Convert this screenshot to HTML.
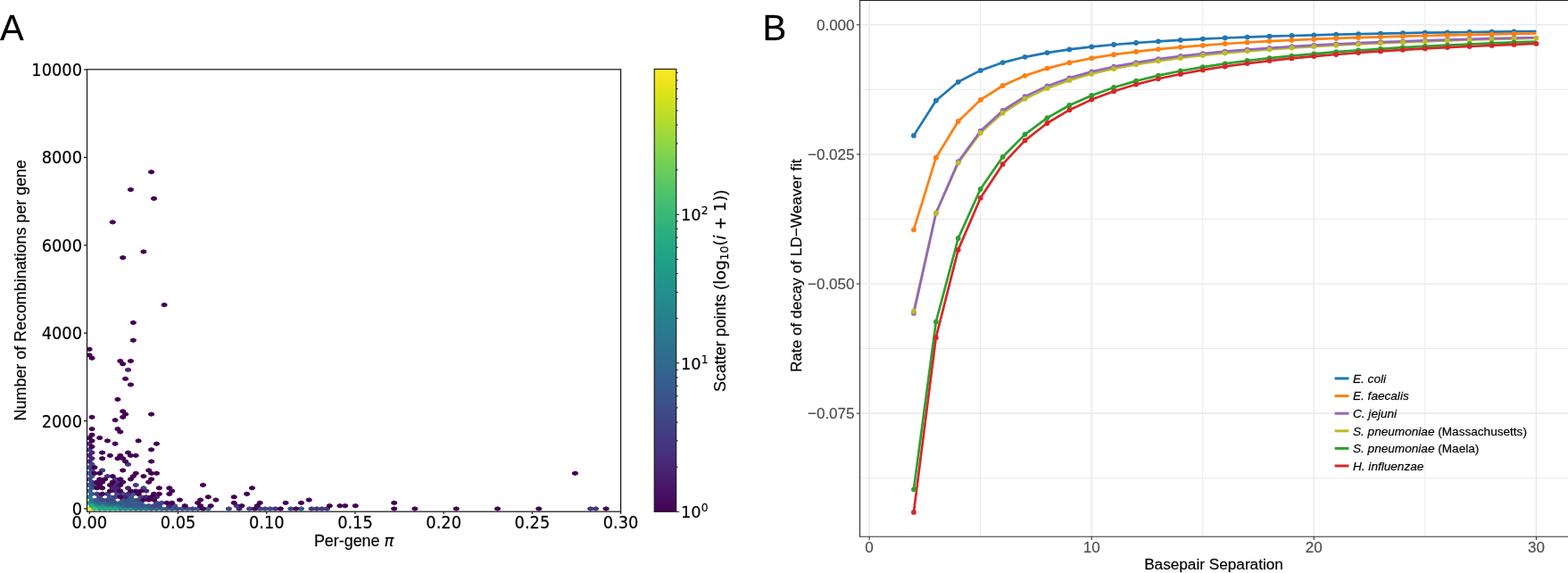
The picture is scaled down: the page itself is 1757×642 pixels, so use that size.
<!DOCTYPE html>
<html><head><meta charset="utf-8"><title>Figure</title>
<style>html,body{margin:0;padding:0;background:#fff;overflow:hidden}svg{display:block}text{stroke:#000;stroke-width:0.3px;stroke-opacity:0.6}text.g{stroke:#4d4d4d}</style>
</head><body>
<svg width="1757" height="642" viewBox="0 0 1757 642"><defs><clipPath id="axA"><rect x="97.5" y="77.8" width="598.1" height="495.4"/></clipPath></defs><g stroke-width="1" stroke-linejoin="round" clip-path="url(#axA)"><path fill="#fde725" stroke="#fde725" d="M103.0 571.1 103.0 568.9 100.1 567.8 97.2 568.9 97.2 571.1 100.1 572.2Z"/><path fill="#21918c" stroke="#21918c" d="M103.0 564.5 103.0 562.3 100.1 561.2 97.2 562.3 97.2 564.5 100.1 565.6ZM111.7 567.8 111.7 565.6 108.8 564.5 105.9 565.6 105.9 567.8 108.8 568.9ZM117.5 567.8 117.5 565.6 114.6 564.5 111.7 565.6 111.7 567.8 114.6 568.9ZM137.7 571.1 137.7 568.9 134.8 567.8 131.9 568.9 131.9 571.1 134.8 572.2ZM143.5 571.1 143.5 568.9 140.6 567.8 137.7 568.9 137.7 571.1 140.6 572.2ZM149.3 571.1 149.3 568.9 146.4 567.8 143.5 568.9 143.5 571.1 146.4 572.2Z"/><path fill="#2a788e" stroke="#2a788e" d="M103.0 557.9 103.0 555.7 100.1 554.6 97.2 555.7 97.2 557.9 100.1 559.0ZM105.9 561.2 105.9 559.0 103.0 557.9 100.1 559.0 100.1 561.2 103.0 562.3ZM108.8 564.5 108.8 562.3 105.9 561.2 103.0 562.3 103.0 564.5 105.9 565.6ZM123.3 567.8 123.3 565.6 120.4 564.5 117.5 565.6 117.5 567.8 120.4 568.9ZM129.1 567.8 129.1 565.6 126.2 564.5 123.3 565.6 123.3 567.8 126.2 568.9ZM134.8 567.8 134.8 565.6 131.9 564.5 129.0 565.6 129.0 567.8 131.9 568.9ZM155.1 571.1 155.1 568.9 152.2 567.8 149.3 568.9 149.3 571.1 152.2 572.2ZM160.9 571.1 160.9 568.9 158.0 567.8 155.1 568.9 155.1 571.1 158.0 572.2ZM166.7 571.1 166.7 568.9 163.8 567.8 160.9 568.9 160.9 571.1 163.8 572.2Z"/><path fill="#31678e" stroke="#31678e" d="M103.0 551.2 103.0 549.0 100.1 547.9 97.2 549.0 97.2 551.2 100.1 552.3ZM105.9 554.6 105.9 552.3 103.0 551.2 100.1 552.3 100.1 554.6 103.0 555.7ZM114.6 564.5 114.6 562.3 111.7 561.2 108.8 562.3 108.8 564.5 111.7 565.6ZM120.4 564.5 120.4 562.3 117.5 561.2 114.6 562.3 114.6 564.5 117.5 565.6ZM140.6 567.8 140.6 565.6 137.7 564.5 134.8 565.6 134.8 567.8 137.7 568.9ZM172.5 571.1 172.5 568.9 169.6 567.8 166.7 568.9 166.7 571.1 169.6 572.2ZM178.3 571.1 178.3 568.9 175.4 567.8 172.5 568.9 172.5 571.1 175.4 572.2ZM184.1 571.1 184.1 568.9 181.2 567.8 178.3 568.9 178.3 571.1 181.2 572.2ZM236.2 571.1 236.2 568.9 233.3 567.8 230.4 568.9 230.4 571.1 233.3 572.2Z"/><path fill="#38588c" stroke="#38588c" d="M103.0 544.6 103.0 542.4 100.1 541.3 97.2 542.4 97.2 544.6 100.1 545.7ZM103.0 531.4 103.0 529.2 100.1 528.1 97.2 529.2 97.2 531.4 100.1 532.5ZM105.9 547.9 105.9 545.7 103.0 544.6 100.1 545.7 100.1 547.9 103.0 549.0ZM105.9 534.7 105.9 532.5 103.0 531.4 100.1 532.5 100.1 534.7 103.0 535.8ZM111.7 561.2 111.7 559.0 108.8 557.9 105.9 559.0 105.9 561.2 108.8 562.3ZM126.2 564.5 126.2 562.3 123.3 561.2 120.4 562.3 120.4 564.5 123.3 565.6ZM126.2 557.9 126.2 555.7 123.3 554.6 120.4 555.7 120.4 557.9 123.3 559.0ZM131.9 564.5 131.9 562.3 129.0 561.2 126.2 562.3 126.2 564.5 129.0 565.6ZM137.7 564.5 137.7 562.3 134.8 561.2 131.9 562.3 131.9 564.5 134.8 565.6ZM140.6 561.2 140.6 559.0 137.7 557.9 134.8 559.0 134.8 561.2 137.7 562.3ZM143.5 564.5 143.5 562.3 140.6 561.2 137.7 562.3 137.7 564.5 140.6 565.6ZM146.4 567.8 146.4 565.6 143.5 564.5 140.6 565.6 140.6 567.8 143.5 568.9ZM146.4 561.2 146.4 559.0 143.5 557.9 140.6 559.0 140.6 561.2 143.5 562.3ZM149.3 564.5 149.3 562.3 146.4 561.2 143.5 562.3 143.5 564.5 146.4 565.6ZM149.3 557.9 149.3 555.7 146.4 554.6 143.5 555.7 143.5 557.9 146.4 559.0ZM152.2 567.8 152.2 565.6 149.3 564.5 146.4 565.6 146.4 567.8 149.3 568.9ZM152.2 561.2 152.2 559.0 149.3 557.9 146.4 559.0 146.4 561.2 149.3 562.3ZM152.2 554.6 152.2 552.3 149.3 551.2 146.4 552.3 146.4 554.6 149.3 555.7ZM155.1 564.5 155.1 562.3 152.2 561.2 149.3 562.3 149.3 564.5 152.2 565.6ZM158.0 567.8 158.0 565.6 155.1 564.5 152.2 565.6 152.2 567.8 155.1 568.9ZM160.9 564.5 160.9 562.3 158.0 561.2 155.1 562.3 155.1 564.5 158.0 565.6ZM163.8 567.8 163.8 565.6 160.9 564.5 158.0 565.6 158.0 567.8 160.9 568.9ZM169.6 567.8 169.6 565.6 166.7 564.5 163.8 565.6 163.8 567.8 166.7 568.9ZM189.8 571.1 189.8 568.9 186.9 567.8 184.1 568.9 184.1 571.1 186.9 572.2ZM195.6 571.1 195.6 568.9 192.7 567.8 189.8 568.9 189.8 571.1 192.7 572.2ZM198.5 567.8 198.5 565.6 195.6 564.5 192.7 565.6 192.7 567.8 195.6 568.9ZM207.2 571.1 207.2 568.9 204.3 567.8 201.4 568.9 201.4 571.1 204.3 572.2ZM213.0 571.1 213.0 568.9 210.1 567.8 207.2 568.9 207.2 571.1 210.1 572.2ZM224.6 571.1 224.6 568.9 221.7 567.8 218.8 568.9 218.8 571.1 221.7 572.2ZM340.4 571.1 340.4 568.9 337.5 567.8 334.6 568.9 334.6 571.1 337.5 572.2Z"/><path fill="#404688" stroke="#404688" d="M103.0 538.0 103.0 535.8 100.1 534.7 97.2 535.8 97.2 538.0 100.1 539.1ZM103.0 524.8 103.0 522.6 100.1 521.5 97.2 522.6 97.2 524.8 100.1 525.9ZM105.9 541.3 105.9 539.1 103.0 538.0 100.1 539.1 100.1 541.3 103.0 542.4ZM105.9 528.1 105.9 525.9 103.0 524.8 100.1 525.9 100.1 528.1 103.0 529.2ZM105.9 521.5 105.9 519.2 103.0 518.1 100.1 519.2 100.1 521.5 103.0 522.6ZM114.6 557.9 114.6 555.7 111.7 554.6 108.8 555.7 108.8 557.9 111.7 559.0ZM117.5 561.2 117.5 559.0 114.6 557.9 111.7 559.0 111.7 561.2 114.6 562.3ZM123.3 561.2 123.3 559.0 120.4 557.9 117.5 559.0 117.5 561.2 120.4 562.3ZM123.3 554.6 123.3 552.3 120.4 551.2 117.5 552.3 117.5 554.6 120.4 555.7ZM129.1 561.2 129.1 559.0 126.2 557.9 123.3 559.0 123.3 561.2 126.2 562.3ZM131.9 557.9 131.9 555.7 129.0 554.6 126.2 555.7 126.2 557.9 129.0 559.0ZM134.8 554.6 134.8 552.3 131.9 551.2 129.0 552.3 129.0 554.6 131.9 555.7ZM140.6 554.6 140.6 552.3 137.7 551.2 134.8 552.3 134.8 554.6 137.7 555.7ZM158.0 561.2 158.0 559.0 155.1 557.9 152.2 559.0 152.2 561.2 155.1 562.3ZM160.9 557.9 160.9 555.7 158.0 554.6 155.1 555.7 155.1 557.9 158.0 559.0ZM163.8 547.9 163.8 545.7 160.9 544.6 158.0 545.7 158.0 547.9 160.9 549.0ZM175.4 567.8 175.4 565.6 172.5 564.5 169.6 565.6 169.6 567.8 172.5 568.9ZM178.3 564.5 178.3 562.3 175.4 561.2 172.5 562.3 172.5 564.5 175.4 565.6ZM181.2 567.8 181.2 565.6 178.3 564.5 175.4 565.6 175.4 567.8 178.3 568.9ZM184.1 564.5 184.1 562.3 181.2 561.2 178.3 562.3 178.3 564.5 181.2 565.6ZM201.4 571.1 201.4 568.9 198.5 567.8 195.6 568.9 195.6 571.1 198.5 572.2ZM218.8 571.1 218.8 568.9 215.9 567.8 213.0 568.9 213.0 571.1 215.9 572.2ZM259.3 571.1 259.3 568.9 256.4 567.8 253.5 568.9 253.5 571.1 256.4 572.2ZM282.5 571.1 282.5 568.9 279.6 567.8 276.7 568.9 276.7 571.1 279.6 572.2ZM294.1 571.1 294.1 568.9 291.2 567.8 288.3 568.9 288.3 571.1 291.2 572.2ZM299.9 571.1 299.9 568.9 297.0 567.8 294.1 568.9 294.1 571.1 297.0 572.2ZM305.6 571.1 305.6 568.9 302.8 567.8 299.9 568.9 299.9 571.1 302.8 572.2ZM328.8 571.1 328.8 568.9 325.9 567.8 323.0 568.9 323.0 571.1 325.9 572.2Z"/><path fill="#482475" stroke="#482475" d="M103.0 518.1 103.0 515.9 100.1 514.8 97.2 515.9 97.2 518.1 100.1 519.2ZM103.0 511.5 103.0 509.3 100.1 508.2 97.2 509.3 97.2 511.5 100.1 512.6ZM103.0 498.3 103.0 496.1 100.1 495.0 97.2 496.1 97.2 498.3 100.1 499.4ZM105.9 514.8 105.9 512.6 103.0 511.5 100.1 512.6 100.1 514.8 103.0 515.9ZM105.9 508.2 105.9 506.0 103.0 504.9 100.1 506.0 100.1 508.2 103.0 509.3ZM129.1 547.9 129.1 545.7 126.2 544.6 123.3 545.7 123.3 547.9 126.2 549.0ZM131.9 551.2 131.9 549.0 129.0 547.9 126.2 549.0 126.2 551.2 129.0 552.3ZM131.9 544.6 131.9 542.4 129.0 541.3 126.2 542.4 126.2 544.6 129.0 545.7ZM134.8 547.9 134.8 545.7 131.9 544.6 129.0 545.7 129.0 547.9 131.9 549.0ZM143.5 557.9 143.5 555.7 140.6 554.6 137.7 555.7 137.7 557.9 140.6 559.0ZM146.4 547.9 146.4 545.7 143.5 544.6 140.6 545.7 140.6 547.9 143.5 549.0ZM146.4 415.5 146.4 413.3 143.5 412.2 140.6 413.3 140.6 415.5 143.5 416.6ZM166.7 557.9 166.7 555.7 163.8 554.6 160.9 555.7 160.9 557.9 163.8 559.0ZM166.7 551.2 166.7 549.0 163.8 547.9 160.9 549.0 160.9 551.2 163.8 552.3ZM178.3 557.9 178.3 555.7 175.4 554.6 172.5 555.7 172.5 557.9 175.4 559.0ZM192.7 567.8 192.7 565.6 189.8 564.5 186.9 565.6 186.9 567.8 189.8 568.9ZM270.9 571.1 270.9 568.9 268.0 567.8 265.1 568.9 265.1 571.1 268.0 572.2Z"/><path fill="#453781" stroke="#453781" d="M103.0 504.9 103.0 502.7 100.1 501.6 97.2 502.7 97.2 504.9 100.1 506.0ZM108.8 544.6 108.8 542.4 105.9 541.3 103.0 542.4 103.0 544.6 105.9 545.7ZM111.7 554.6 111.7 552.3 108.8 551.2 105.9 552.3 105.9 554.6 108.8 555.7ZM117.5 528.1 117.5 525.9 114.6 524.8 111.7 525.9 111.7 528.1 114.6 529.2ZM123.3 534.7 123.3 532.5 120.4 531.4 117.5 532.5 117.5 534.7 120.4 535.8ZM131.9 538.0 131.9 535.8 129.0 534.7 126.2 535.8 126.2 538.0 129.0 539.1ZM134.8 541.3 134.8 539.1 131.9 538.0 129.0 539.1 129.0 541.3 131.9 542.4ZM146.4 554.6 146.4 552.3 143.5 551.2 140.6 552.3 140.6 554.6 143.5 555.7ZM146.4 521.5 146.4 519.2 143.5 518.1 140.6 519.2 140.6 521.5 143.5 522.6ZM155.1 544.6 155.1 542.4 152.2 541.3 149.3 542.4 149.3 544.6 152.2 545.7ZM268.0 567.8 268.0 565.6 265.1 564.5 262.2 565.6 262.2 567.8 265.1 568.9ZM311.4 571.1 311.4 568.9 308.5 567.8 305.6 568.9 305.6 571.1 308.5 572.2ZM352.0 571.1 352.0 568.9 349.1 567.8 346.2 568.9 346.2 571.1 349.1 572.2ZM357.8 571.1 357.8 568.9 354.9 567.8 352.0 568.9 352.0 571.1 354.9 572.2ZM363.5 571.1 363.5 568.9 360.6 567.8 357.8 568.9 357.8 571.1 360.6 572.2ZM369.3 571.1 369.3 568.9 366.4 567.8 363.5 568.9 363.5 571.1 366.4 572.2ZM664.6 571.1 664.6 568.9 661.7 567.8 658.8 568.9 658.8 571.1 661.7 572.2ZM670.4 571.1 670.4 568.9 667.5 567.8 664.6 568.9 664.6 571.1 667.5 572.2Z"/><path fill="#440154" stroke="#440154" d="M103.0 491.7 103.0 489.5 100.1 488.4 97.2 489.5 97.2 491.7 100.1 492.8ZM103.0 399.0 103.0 396.8 100.1 395.7 97.2 396.8 97.2 399.0 100.1 400.1ZM103.0 392.4 103.0 390.2 100.1 389.1 97.2 390.2 97.2 392.4 100.1 393.5ZM105.9 501.6 105.9 499.4 103.0 498.3 100.1 499.4 100.1 501.6 103.0 502.7ZM105.9 495.0 105.9 492.8 103.0 491.7 100.1 492.8 100.1 495.0 103.0 496.1ZM105.9 488.4 105.9 486.1 103.0 485.0 100.1 486.1 100.1 488.4 103.0 489.5ZM105.9 481.7 105.9 479.5 103.0 478.4 100.1 479.5 100.1 481.7 103.0 482.8ZM105.9 468.5 105.9 466.3 103.0 465.2 100.1 466.3 100.1 468.5 103.0 469.6ZM105.9 402.3 105.9 400.1 103.0 399.0 100.1 400.1 100.1 402.3 103.0 403.4ZM108.8 531.4 108.8 529.2 105.9 528.1 103.0 529.2 103.0 531.4 105.9 532.5ZM108.8 524.8 108.8 522.6 105.9 521.5 103.0 522.6 103.0 524.8 105.9 525.9ZM111.7 547.9 111.7 545.7 108.8 544.6 105.9 545.7 105.9 547.9 108.8 549.0ZM111.7 541.3 111.7 539.1 108.8 538.0 105.9 539.1 105.9 541.3 108.8 542.4ZM114.6 544.6 114.6 542.4 111.7 541.3 108.8 542.4 108.8 544.6 111.7 545.7ZM114.6 538.0 114.6 535.8 111.7 534.7 108.8 535.8 108.8 538.0 111.7 539.1ZM114.6 531.4 114.6 529.2 111.7 528.1 108.8 529.2 108.8 531.4 111.7 532.5ZM114.6 491.7 114.6 489.5 111.7 488.4 108.8 489.5 108.8 491.7 111.7 492.8ZM117.5 554.6 117.5 552.3 114.6 551.2 111.7 552.3 111.7 554.6 114.6 555.7ZM117.5 547.9 117.5 545.7 114.6 544.6 111.7 545.7 111.7 547.9 114.6 549.0ZM117.5 541.3 117.5 539.1 114.6 538.0 111.7 539.1 111.7 541.3 114.6 542.4ZM117.5 514.8 117.5 512.6 114.6 511.5 111.7 512.6 111.7 514.8 114.6 515.9ZM117.5 508.2 117.5 506.0 114.6 504.9 111.7 506.0 111.7 508.2 114.6 509.3ZM120.4 538.0 120.4 535.8 117.5 534.7 114.6 535.8 114.6 538.0 117.5 539.1ZM123.3 495.0 123.3 492.8 120.4 491.7 117.5 492.8 117.5 495.0 120.4 496.1ZM126.2 551.2 126.2 549.0 123.3 547.9 120.4 549.0 120.4 551.2 123.3 552.3ZM126.2 544.6 126.2 542.4 123.3 541.3 120.4 542.4 120.4 544.6 123.3 545.7ZM126.2 511.5 126.2 509.3 123.3 508.2 120.4 509.3 120.4 511.5 123.3 512.6ZM129.1 541.3 129.1 539.1 126.2 538.0 123.3 539.1 123.3 541.3 126.2 542.4ZM129.1 534.7 129.1 532.5 126.2 531.4 123.3 532.5 123.3 534.7 126.2 535.8ZM129.1 250.0 129.1 247.8 126.2 246.7 123.3 247.8 123.3 250.0 126.2 251.1ZM131.9 498.3 131.9 496.1 129.0 495.0 126.2 496.1 126.2 498.3 129.0 499.4ZM131.9 471.8 131.9 469.6 129.0 468.5 126.2 469.6 126.2 471.8 129.0 472.9ZM134.8 514.8 134.8 512.6 131.9 511.5 129.0 512.6 129.0 514.8 131.9 515.9ZM134.8 481.7 134.8 479.5 131.9 478.4 129.0 479.5 129.0 481.7 131.9 482.8ZM134.8 448.6 134.8 446.4 131.9 445.3 129.0 446.4 129.0 448.6 131.9 449.7ZM137.7 557.9 137.7 555.7 134.8 554.6 131.9 555.7 131.9 557.9 134.8 559.0ZM137.7 551.2 137.7 549.0 134.8 547.9 131.9 549.0 131.9 551.2 134.8 552.3ZM137.7 544.6 137.7 542.4 134.8 541.3 131.9 542.4 131.9 544.6 134.8 545.7ZM137.7 538.0 137.7 535.8 134.8 534.7 131.9 535.8 131.9 538.0 134.8 539.1ZM137.7 511.5 137.7 509.3 134.8 508.2 131.9 509.3 131.9 511.5 134.8 512.6ZM137.7 485.0 137.7 482.8 134.8 481.7 131.9 482.8 131.9 485.0 134.8 486.1ZM137.7 405.6 137.7 403.4 134.8 402.3 131.9 403.4 131.9 405.6 134.8 406.7ZM140.6 541.3 140.6 539.1 137.7 538.0 134.8 539.1 134.8 541.3 137.7 542.4ZM140.6 528.1 140.6 525.9 137.7 524.8 134.8 525.9 134.8 528.1 137.7 529.2ZM140.6 514.8 140.6 512.6 137.7 511.5 134.8 512.6 134.8 514.8 137.7 515.9ZM140.6 468.5 140.6 466.3 137.7 465.2 134.8 466.3 134.8 468.5 137.7 469.6ZM140.6 461.9 140.6 459.7 137.7 458.6 134.8 459.7 134.8 461.9 137.7 463.0ZM140.6 408.9 140.6 406.7 137.7 405.6 134.8 406.7 134.8 408.9 137.7 410.0ZM140.6 289.8 140.6 287.5 137.7 286.4 134.8 287.5 134.8 289.8 137.7 290.9ZM143.5 518.1 143.5 515.9 140.6 514.8 137.7 515.9 137.7 518.1 140.6 519.2ZM143.5 465.2 143.5 463.0 140.6 461.9 137.7 463.0 137.7 465.2 140.6 466.3ZM143.5 425.5 143.5 423.3 140.6 422.2 137.7 423.3 137.7 425.5 140.6 426.6ZM146.4 508.2 146.4 506.0 143.5 504.9 140.6 506.0 140.6 508.2 143.5 509.3ZM149.3 551.2 149.3 549.0 146.4 547.9 143.5 549.0 143.5 551.2 146.4 552.3ZM149.3 538.0 149.3 535.8 146.4 534.7 143.5 535.8 143.5 538.0 146.4 539.1ZM149.3 511.5 149.3 509.3 146.4 508.2 143.5 509.3 143.5 511.5 146.4 512.6ZM149.3 432.1 149.3 429.9 146.4 428.8 143.5 429.9 143.5 432.1 146.4 433.2ZM149.3 405.6 149.3 403.4 146.4 402.3 143.5 403.4 143.5 405.6 146.4 406.7ZM149.3 213.6 149.3 211.4 146.4 210.3 143.5 211.4 143.5 213.6 146.4 214.7ZM152.2 534.7 152.2 532.5 149.3 531.4 146.4 532.5 146.4 534.7 149.3 535.8ZM152.2 382.4 152.2 380.2 149.3 379.1 146.4 380.2 146.4 382.4 149.3 383.5ZM152.2 362.6 152.2 360.4 149.3 359.3 146.4 360.4 146.4 362.6 149.3 363.7ZM155.1 551.2 155.1 549.0 152.2 547.9 149.3 549.0 149.3 551.2 152.2 552.3ZM155.1 531.4 155.1 529.2 152.2 528.1 149.3 529.2 149.3 531.4 152.2 532.5ZM155.1 511.5 155.1 509.3 152.2 508.2 149.3 509.3 149.3 511.5 152.2 512.6ZM158.0 554.6 158.0 552.3 155.1 551.2 152.2 552.3 152.2 554.6 155.1 555.7ZM158.0 495.0 158.0 492.8 155.1 491.7 152.2 492.8 152.2 495.0 155.1 496.1ZM160.9 551.2 160.9 549.0 158.0 547.9 155.1 549.0 155.1 551.2 158.0 552.3ZM163.8 561.2 163.8 559.0 160.9 557.9 158.0 559.0 158.0 561.2 160.9 562.3ZM163.8 534.7 163.8 532.5 160.9 531.4 158.0 532.5 158.0 534.7 160.9 535.8ZM163.8 283.1 163.8 280.9 160.9 279.8 158.0 280.9 158.0 283.1 160.9 284.2ZM169.6 561.2 169.6 559.0 166.7 557.9 163.8 559.0 163.8 561.2 166.7 562.3ZM169.6 541.3 169.6 539.1 166.7 538.0 163.8 539.1 163.8 541.3 166.7 542.4ZM169.6 528.1 169.6 525.9 166.7 524.8 163.8 525.9 163.8 528.1 166.7 529.2ZM172.5 557.9 172.5 555.7 169.6 554.6 166.7 555.7 166.7 557.9 169.6 559.0ZM172.5 538.0 172.5 535.8 169.6 534.7 166.7 535.8 166.7 538.0 169.6 539.1ZM172.5 531.4 172.5 529.2 169.6 528.1 166.7 529.2 166.7 531.4 169.6 532.5ZM172.5 518.1 172.5 515.9 169.6 514.8 166.7 515.9 166.7 518.1 169.6 519.2ZM172.5 504.9 172.5 502.7 169.6 501.6 166.7 502.7 166.7 504.9 169.6 506.0ZM172.5 465.2 172.5 463.0 169.6 461.9 166.7 463.0 166.7 465.2 169.6 466.3ZM172.5 193.8 172.5 191.6 169.6 190.5 166.7 191.6 166.7 193.8 169.6 194.9ZM175.4 561.2 175.4 559.0 172.5 557.9 169.6 559.0 169.6 561.2 172.5 562.3ZM175.4 554.6 175.4 552.3 172.5 551.2 169.6 552.3 169.6 554.6 172.5 555.7ZM175.4 223.6 175.4 221.3 172.5 220.2 169.6 221.3 169.6 223.6 172.5 224.7ZM178.3 531.4 178.3 529.2 175.4 528.1 172.5 529.2 172.5 531.4 175.4 532.5ZM178.3 498.3 178.3 496.1 175.4 495.0 172.5 496.1 172.5 498.3 175.4 499.4ZM181.2 554.6 181.2 552.3 178.3 551.2 175.4 552.3 175.4 554.6 178.3 555.7ZM181.2 547.9 181.2 545.7 178.3 544.6 175.4 545.7 175.4 547.9 178.3 549.0ZM187.0 342.7 187.0 340.5 184.1 339.4 181.2 340.5 181.2 342.7 184.1 343.8ZM189.8 564.5 189.8 562.3 186.9 561.2 184.1 562.3 184.1 564.5 186.9 565.6ZM192.7 554.6 192.7 552.3 189.8 551.2 186.9 552.3 186.9 554.6 189.8 555.7ZM192.7 547.9 192.7 545.7 189.8 544.6 186.9 545.7 186.9 547.9 189.8 549.0ZM195.6 564.5 195.6 562.3 192.7 561.2 189.8 562.3 189.8 564.5 192.7 565.6ZM195.6 551.2 195.6 549.0 192.7 547.9 189.8 549.0 189.8 551.2 192.7 552.3ZM204.3 561.2 204.3 559.0 201.4 557.9 198.5 559.0 198.5 561.2 201.4 562.3ZM210.1 567.8 210.1 565.6 207.2 564.5 204.3 565.6 204.3 567.8 207.2 568.9ZM224.6 564.5 224.6 562.3 221.7 561.2 218.8 562.3 218.8 564.5 221.7 565.6ZM227.5 567.8 227.5 565.6 224.6 564.5 221.7 565.6 221.7 567.8 224.6 568.9ZM227.5 561.2 227.5 559.0 224.6 557.9 221.7 559.0 221.7 561.2 224.6 562.3ZM230.4 571.1 230.4 568.9 227.5 567.8 224.6 568.9 224.6 571.1 227.5 572.2ZM230.4 544.6 230.4 542.4 227.5 541.3 224.6 542.4 224.6 544.6 227.5 545.7ZM236.2 557.9 236.2 555.7 233.3 554.6 230.4 555.7 230.4 557.9 233.3 559.0ZM239.1 567.8 239.1 565.6 236.2 564.5 233.3 565.6 233.3 567.8 236.2 568.9ZM244.8 561.2 244.8 559.0 242.0 557.9 239.1 559.0 239.1 561.2 242.0 562.3ZM265.1 564.5 265.1 562.3 262.2 561.2 259.3 562.3 259.3 564.5 262.2 565.6ZM265.1 557.9 265.1 555.7 262.2 554.6 259.3 555.7 259.3 557.9 262.2 559.0ZM273.8 567.8 273.8 565.6 270.9 564.5 268.0 565.6 268.0 567.8 270.9 568.9ZM279.6 554.6 279.6 552.3 276.7 551.2 273.8 552.3 273.8 554.6 276.7 555.7ZM285.4 547.9 285.4 545.7 282.5 544.6 279.6 545.7 279.6 547.9 282.5 549.0ZM288.3 571.1 288.3 568.9 285.4 567.8 282.5 568.9 282.5 571.1 285.4 572.2ZM291.2 567.8 291.2 565.6 288.3 564.5 285.4 565.6 285.4 567.8 288.3 568.9ZM294.1 564.5 294.1 562.3 291.2 561.2 288.3 562.3 288.3 564.5 291.2 565.6ZM317.2 571.1 317.2 568.9 314.3 567.8 311.4 568.9 311.4 571.1 314.3 572.2ZM323.0 564.5 323.0 562.3 320.1 561.2 317.2 562.3 317.2 564.5 320.1 565.6ZM334.6 571.1 334.6 568.9 331.7 567.8 328.8 568.9 328.8 571.1 331.7 572.2ZM340.4 564.5 340.4 562.3 337.5 561.2 334.6 562.3 334.6 564.5 337.5 565.6ZM349.1 561.2 349.1 559.0 346.2 557.9 343.3 559.0 343.3 561.2 346.2 562.3ZM372.2 567.8 372.2 565.6 369.3 564.5 366.4 565.6 366.4 567.8 369.3 568.9ZM383.8 567.8 383.8 565.6 380.9 564.5 378.0 565.6 378.0 567.8 380.9 568.9ZM389.6 567.8 389.6 565.6 386.7 564.5 383.8 565.6 383.8 567.8 386.7 568.9ZM401.2 567.8 401.2 565.6 398.3 564.5 395.4 565.6 395.4 567.8 398.3 568.9ZM444.6 571.1 444.6 568.9 441.7 567.8 438.8 568.9 438.8 571.1 441.7 572.2ZM444.6 564.5 444.6 562.3 441.7 561.2 438.8 562.3 438.8 564.5 441.7 565.6ZM467.8 571.1 467.8 568.9 464.9 567.8 462.0 568.9 462.0 571.1 464.9 572.2ZM514.1 571.1 514.1 568.9 511.2 567.8 508.3 568.9 508.3 571.1 511.2 572.2ZM560.4 571.1 560.4 568.9 557.5 567.8 554.6 568.9 554.6 571.1 557.5 572.2ZM606.7 571.1 606.7 568.9 603.8 567.8 600.9 568.9 600.9 571.1 603.8 572.2ZM647.3 531.4 647.3 529.2 644.4 528.1 641.5 529.2 641.5 531.4 644.4 532.5ZM682.0 571.1 682.0 568.9 679.1 567.8 676.2 568.9 676.2 571.1 679.1 572.2Z"/><path fill="#22a884" stroke="#22a884" d="M105.9 567.8 105.9 565.6 103.0 564.5 100.1 565.6 100.1 567.8 103.0 568.9ZM114.6 571.1 114.6 568.9 111.7 567.8 108.8 568.9 108.8 571.1 111.7 572.2ZM120.4 571.1 120.4 568.9 117.5 567.8 114.6 568.9 114.6 571.1 117.5 572.2ZM126.2 571.1 126.2 568.9 123.3 567.8 120.4 568.9 120.4 571.1 123.3 572.2ZM131.9 571.1 131.9 568.9 129.0 567.8 126.2 568.9 126.2 571.1 129.0 572.2Z"/><path fill="#44bf70" stroke="#44bf70" d="M108.8 571.1 108.8 568.9 105.9 567.8 103.0 568.9 103.0 571.1 105.9 572.2Z"/></g><rect x="97.5" y="77.8" width="598.1" height="495.4" fill="none" stroke="#111" stroke-width="1.2"/><line x1="94.0" x2="97.5" y1="570.00" y2="570.00" stroke="#111" stroke-width="1.2"/><text transform="translate(92 577.00) scale(1 1.05)" text-anchor="end" style="font-family:'DejaVu Sans',sans-serif;font-size:17.8px">0</text><line x1="94.0" x2="97.5" y1="471.60" y2="471.60" stroke="#111" stroke-width="1.2"/><text transform="translate(92 478.60) scale(1 1.05)" text-anchor="end" style="font-family:'DejaVu Sans',sans-serif;font-size:17.8px">2000</text><line x1="94.0" x2="97.5" y1="373.20" y2="373.20" stroke="#111" stroke-width="1.2"/><text transform="translate(92 380.20) scale(1 1.05)" text-anchor="end" style="font-family:'DejaVu Sans',sans-serif;font-size:17.8px">4000</text><line x1="94.0" x2="97.5" y1="274.80" y2="274.80" stroke="#111" stroke-width="1.2"/><text transform="translate(92 281.80) scale(1 1.05)" text-anchor="end" style="font-family:'DejaVu Sans',sans-serif;font-size:17.8px">6000</text><line x1="94.0" x2="97.5" y1="176.40" y2="176.40" stroke="#111" stroke-width="1.2"/><text transform="translate(92 183.40) scale(1 1.05)" text-anchor="end" style="font-family:'DejaVu Sans',sans-serif;font-size:17.8px">8000</text><line x1="94.0" x2="97.5" y1="78.00" y2="78.00" stroke="#111" stroke-width="1.2"/><text transform="translate(92 85.00) scale(1 1.05)" text-anchor="end" style="font-family:'DejaVu Sans',sans-serif;font-size:17.8px">10000</text><line x1="100.30" x2="100.30" y1="573.2" y2="575.9" stroke="#111" stroke-width="1.2"/><text transform="translate(100.30 592.4) scale(1 1.05)" text-anchor="middle" style="font-family:'DejaVu Sans',sans-serif;font-size:17.8px">0.00</text><line x1="199.51" x2="199.51" y1="573.2" y2="575.9" stroke="#111" stroke-width="1.2"/><text transform="translate(199.51 592.4) scale(1 1.05)" text-anchor="middle" style="font-family:'DejaVu Sans',sans-serif;font-size:17.8px">0.05</text><line x1="298.73" x2="298.73" y1="573.2" y2="575.9" stroke="#111" stroke-width="1.2"/><text transform="translate(298.73 592.4) scale(1 1.05)" text-anchor="middle" style="font-family:'DejaVu Sans',sans-serif;font-size:17.8px">0.10</text><line x1="397.95" x2="397.95" y1="573.2" y2="575.9" stroke="#111" stroke-width="1.2"/><text transform="translate(397.95 592.4) scale(1 1.05)" text-anchor="middle" style="font-family:'DejaVu Sans',sans-serif;font-size:17.8px">0.15</text><line x1="497.16" x2="497.16" y1="573.2" y2="575.9" stroke="#111" stroke-width="1.2"/><text transform="translate(497.16 592.4) scale(1 1.05)" text-anchor="middle" style="font-family:'DejaVu Sans',sans-serif;font-size:17.8px">0.20</text><line x1="596.38" x2="596.38" y1="573.2" y2="575.9" stroke="#111" stroke-width="1.2"/><text transform="translate(596.38 592.4) scale(1 1.05)" text-anchor="middle" style="font-family:'DejaVu Sans',sans-serif;font-size:17.8px">0.25</text><line x1="695.59" x2="695.59" y1="573.2" y2="575.9" stroke="#111" stroke-width="1.2"/><text transform="translate(695.59 592.4) scale(1 1.05)" text-anchor="middle" style="font-family:'DejaVu Sans',sans-serif;font-size:17.8px">0.30</text><text x="396.6" y="611.6" text-anchor="middle" style="font-family:'Liberation Sans',Arial,sans-serif;font-size:17.9px">Per-gene <tspan style="font-family:'DejaVu Sans',sans-serif;font-style:italic">π</tspan></text><text transform="translate(28.7 325.2) rotate(-90)" text-anchor="middle" style="font-family:'Liberation Sans',Arial,sans-serif;font-size:17.9px">Number of Recombinations per gene</text><defs><linearGradient id="vir" x1="0" y1="0" x2="0" y2="1"><stop offset="0.000" stop-color="#fde725"/><stop offset="0.031" stop-color="#ece51b"/><stop offset="0.062" stop-color="#d8e219"/><stop offset="0.094" stop-color="#c2df23"/><stop offset="0.125" stop-color="#addc30"/><stop offset="0.156" stop-color="#98d83e"/><stop offset="0.188" stop-color="#84d44b"/><stop offset="0.219" stop-color="#70cf57"/><stop offset="0.250" stop-color="#5ec962"/><stop offset="0.281" stop-color="#4ec36b"/><stop offset="0.312" stop-color="#3fbc73"/><stop offset="0.344" stop-color="#32b67a"/><stop offset="0.375" stop-color="#28ae80"/><stop offset="0.406" stop-color="#22a785"/><stop offset="0.438" stop-color="#1fa088"/><stop offset="0.469" stop-color="#1f988b"/><stop offset="0.500" stop-color="#21918c"/><stop offset="0.531" stop-color="#23898e"/><stop offset="0.562" stop-color="#26828e"/><stop offset="0.594" stop-color="#297a8e"/><stop offset="0.625" stop-color="#2c728e"/><stop offset="0.656" stop-color="#2f6b8e"/><stop offset="0.688" stop-color="#33638d"/><stop offset="0.719" stop-color="#375b8d"/><stop offset="0.750" stop-color="#3b528b"/><stop offset="0.781" stop-color="#3e4989"/><stop offset="0.812" stop-color="#424086"/><stop offset="0.844" stop-color="#453781"/><stop offset="0.875" stop-color="#472d7b"/><stop offset="0.906" stop-color="#482374"/><stop offset="0.938" stop-color="#48186a"/><stop offset="0.969" stop-color="#470d60"/><stop offset="1.000" stop-color="#440154"/></linearGradient></defs><rect x="733.2" y="77.4" width="24.5" height="495.9" fill="url(#vir)" stroke="#111" stroke-width="1.1"/><line x1="757.7" x2="761.2" y1="573.30" y2="573.30" stroke="#111" stroke-width="1"/><line x1="757.7" x2="759.7" y1="523.18" y2="523.18" stroke="#111" stroke-width="1"/><line x1="757.7" x2="759.7" y1="493.86" y2="493.86" stroke="#111" stroke-width="1"/><line x1="757.7" x2="759.7" y1="473.06" y2="473.06" stroke="#111" stroke-width="1"/><line x1="757.7" x2="759.7" y1="456.92" y2="456.92" stroke="#111" stroke-width="1"/><line x1="757.7" x2="759.7" y1="443.74" y2="443.74" stroke="#111" stroke-width="1"/><line x1="757.7" x2="759.7" y1="432.59" y2="432.59" stroke="#111" stroke-width="1"/><line x1="757.7" x2="759.7" y1="422.94" y2="422.94" stroke="#111" stroke-width="1"/><line x1="757.7" x2="759.7" y1="414.42" y2="414.42" stroke="#111" stroke-width="1"/><text x="763" y="580.00" style="font-family:'DejaVu Sans',sans-serif;font-size:17.8px">10<tspan dy="-7" style="font-size:12.3px">0</tspan></text><line x1="757.7" x2="761.2" y1="406.80" y2="406.80" stroke="#111" stroke-width="1"/><line x1="757.7" x2="759.7" y1="356.68" y2="356.68" stroke="#111" stroke-width="1"/><line x1="757.7" x2="759.7" y1="327.36" y2="327.36" stroke="#111" stroke-width="1"/><line x1="757.7" x2="759.7" y1="306.56" y2="306.56" stroke="#111" stroke-width="1"/><line x1="757.7" x2="759.7" y1="290.42" y2="290.42" stroke="#111" stroke-width="1"/><line x1="757.7" x2="759.7" y1="277.24" y2="277.24" stroke="#111" stroke-width="1"/><line x1="757.7" x2="759.7" y1="266.09" y2="266.09" stroke="#111" stroke-width="1"/><line x1="757.7" x2="759.7" y1="256.44" y2="256.44" stroke="#111" stroke-width="1"/><line x1="757.7" x2="759.7" y1="247.92" y2="247.92" stroke="#111" stroke-width="1"/><text x="763" y="413.50" style="font-family:'DejaVu Sans',sans-serif;font-size:17.8px">10<tspan dy="-7" style="font-size:12.3px">1</tspan></text><line x1="757.7" x2="761.2" y1="240.30" y2="240.30" stroke="#111" stroke-width="1"/><line x1="757.7" x2="759.7" y1="190.18" y2="190.18" stroke="#111" stroke-width="1"/><line x1="757.7" x2="759.7" y1="160.86" y2="160.86" stroke="#111" stroke-width="1"/><line x1="757.7" x2="759.7" y1="140.06" y2="140.06" stroke="#111" stroke-width="1"/><line x1="757.7" x2="759.7" y1="123.92" y2="123.92" stroke="#111" stroke-width="1"/><line x1="757.7" x2="759.7" y1="110.74" y2="110.74" stroke="#111" stroke-width="1"/><line x1="757.7" x2="759.7" y1="99.59" y2="99.59" stroke="#111" stroke-width="1"/><line x1="757.7" x2="759.7" y1="89.94" y2="89.94" stroke="#111" stroke-width="1"/><line x1="757.7" x2="759.7" y1="81.42" y2="81.42" stroke="#111" stroke-width="1"/><text x="763" y="247.00" style="font-family:'DejaVu Sans',sans-serif;font-size:17.8px">10<tspan dy="-7" style="font-size:12.3px">2</tspan></text><text transform="translate(812.8 439) rotate(-90)" style="font-family:'Liberation Sans',Arial,sans-serif;font-size:17.9px">Scatter points (<tspan style="font-family:'DejaVu Sans',sans-serif">log<tspan dy="3.2" style="font-size:12.5px">10</tspan><tspan dy="-3.2">(</tspan><tspan style="font-style:italic">i</tspan> + 1)</tspan>)</text><text x="0" y="44.6" style="font-family:'Liberation Sans',Arial,sans-serif;font-size:40px">A</text><text x="854.5" y="44.6" style="font-family:'Liberation Sans',Arial,sans-serif;font-size:40px">B</text><line x1="1098.65" x2="1098.65" y1="0" y2="601.3" stroke="#EBEBEB" stroke-width="1"/><line x1="1347.75" x2="1347.75" y1="0" y2="601.3" stroke="#EBEBEB" stroke-width="1"/><line x1="1596.85" x2="1596.85" y1="0" y2="601.3" stroke="#EBEBEB" stroke-width="1"/><line x1="963.5" x2="1757" y1="100.35" y2="100.35" stroke="#EBEBEB" stroke-width="1"/><line x1="963.5" x2="1757" y1="245.45" y2="245.45" stroke="#EBEBEB" stroke-width="1"/><line x1="963.5" x2="1757" y1="390.55" y2="390.55" stroke="#EBEBEB" stroke-width="1"/><line x1="963.5" x2="1757" y1="535.65" y2="535.65" stroke="#EBEBEB" stroke-width="1"/><line x1="974.10" x2="974.10" y1="0" y2="601.3" stroke="#EBEBEB" stroke-width="1.6"/><line x1="1223.20" x2="1223.20" y1="0" y2="601.3" stroke="#EBEBEB" stroke-width="1.6"/><line x1="1472.30" x2="1472.30" y1="0" y2="601.3" stroke="#EBEBEB" stroke-width="1.6"/><line x1="1721.40" x2="1721.40" y1="0" y2="601.3" stroke="#EBEBEB" stroke-width="1.6"/><line x1="963.5" x2="1757" y1="27.80" y2="27.80" stroke="#EBEBEB" stroke-width="1.6"/><line x1="963.5" x2="1757" y1="172.90" y2="172.90" stroke="#EBEBEB" stroke-width="1.6"/><line x1="963.5" x2="1757" y1="318.00" y2="318.00" stroke="#EBEBEB" stroke-width="1.6"/><line x1="963.5" x2="1757" y1="463.10" y2="463.10" stroke="#EBEBEB" stroke-width="1.6"/><polyline fill="none" stroke="#1f77b4" stroke-width="2.7" stroke-linejoin="round" points="1023.9,151.9 1048.8,112.7 1073.7,91.8 1098.7,78.9 1123.6,70.1 1148.5,63.8 1173.4,59.1 1198.3,55.4 1223.2,52.4 1248.1,50.0 1273.0,48.0 1297.9,46.3 1322.8,44.9 1347.8,43.6 1372.7,42.5 1397.6,41.6 1422.5,40.7 1447.4,40.0 1472.3,39.3 1497.2,38.7 1522.1,38.1 1547.0,37.6 1571.9,37.2 1596.8,36.7 1621.8,36.3 1646.7,36.0 1671.6,35.6 1696.5,35.3 1721.4,35.0"/><polyline fill="none" stroke="#ff7f0e" stroke-width="2.7" stroke-linejoin="round" points="1023.9,257.3 1048.8,176.7 1073.7,136.0 1098.7,111.9 1123.6,96.0 1148.5,84.8 1173.4,76.6 1198.3,70.2 1223.2,65.2 1248.1,61.2 1273.0,57.9 1297.9,55.1 1322.8,52.8 1347.8,50.8 1372.7,49.0 1397.6,47.5 1422.5,46.1 1447.4,45.0 1472.3,43.9 1497.2,42.9 1522.1,42.1 1547.0,41.3 1571.9,40.6 1596.8,40.0 1621.8,39.4 1646.7,38.8 1671.6,38.3 1696.5,37.8 1721.4,37.4"/><polyline fill="none" stroke="#bcbd22" stroke-width="2.7" stroke-linejoin="round" points="1023.9,348.7 1048.8,238.8 1073.7,182.6 1098.7,148.8 1123.6,126.5 1148.5,110.7 1173.4,98.9 1198.3,89.9 1223.2,82.8 1248.1,77.0 1273.0,72.2 1297.9,68.3 1322.8,64.9 1347.8,62.0 1372.7,59.5 1397.6,57.3 1422.5,55.3 1447.4,53.6 1472.3,52.1 1497.2,50.7 1522.1,49.4 1547.0,48.3 1571.9,47.3 1596.8,46.3 1621.8,45.5 1646.7,44.7 1671.6,43.9 1696.5,43.3 1721.4,42.6"/><polyline fill="none" stroke="#9467bd" stroke-width="2.7" stroke-linejoin="round" points="1023.9,350.9 1048.8,238.8 1073.7,181.2 1098.7,146.7 1123.6,124.0 1148.5,108.1 1173.4,96.4 1198.3,87.4 1223.2,80.4 1248.1,74.7 1273.0,70.1 1297.9,66.2 1322.8,62.9 1347.8,60.1 1372.7,57.7 1397.6,55.6 1422.5,53.8 1447.4,52.2 1472.3,50.7 1497.2,49.4 1522.1,48.3 1547.0,47.2 1571.9,46.3 1596.8,45.4 1621.8,44.6 1646.7,43.9 1671.6,43.2 1696.5,42.6 1721.4,42.0"/><polyline fill="none" stroke="#2ca02c" stroke-width="2.7" stroke-linejoin="round" points="1023.9,548.3 1048.8,360.6 1073.7,267.0 1098.7,211.8 1123.6,175.8 1148.5,150.6 1173.4,132.1 1198.3,118.0 1223.2,106.9 1248.1,98.0 1273.0,90.7 1297.9,84.6 1322.8,79.5 1347.8,75.1 1372.7,71.3 1397.6,68.0 1422.5,65.1 1447.4,62.6 1472.3,60.3 1497.2,58.2 1522.1,56.4 1547.0,54.8 1571.9,53.2 1596.8,51.9 1621.8,50.6 1646.7,49.5 1671.6,48.4 1696.5,47.4 1721.4,46.5"/><polyline fill="none" stroke="#d62728" stroke-width="2.7" stroke-linejoin="round" points="1023.9,573.9 1048.8,378.2 1073.7,279.9 1098.7,221.8 1123.6,183.9 1148.5,157.4 1173.4,138.0 1198.3,123.2 1223.2,111.6 1248.1,102.3 1273.0,94.6 1297.9,88.3 1322.8,83.0 1347.8,78.4 1372.7,74.5 1397.6,71.1 1422.5,68.1 1447.4,65.4 1472.3,63.1 1497.2,61.0 1522.1,59.1 1547.0,57.4 1571.9,55.8 1596.8,54.4 1621.8,53.1 1646.7,52.0 1671.6,50.9 1696.5,49.9 1721.4,48.9"/><g fill="#1f77b4"><circle cx="1023.9" cy="151.9" r="2.9"/><circle cx="1048.8" cy="112.7" r="2.9"/><circle cx="1073.7" cy="91.8" r="2.9"/><circle cx="1098.7" cy="78.9" r="2.9"/><circle cx="1123.6" cy="70.1" r="2.9"/><circle cx="1148.5" cy="63.8" r="2.9"/><circle cx="1173.4" cy="59.1" r="2.9"/><circle cx="1198.3" cy="55.4" r="2.9"/><circle cx="1223.2" cy="52.4" r="2.9"/><circle cx="1248.1" cy="50.0" r="2.9"/><circle cx="1273.0" cy="48.0" r="2.9"/><circle cx="1297.9" cy="46.3" r="2.9"/><circle cx="1322.8" cy="44.9" r="2.9"/><circle cx="1347.8" cy="43.6" r="2.9"/><circle cx="1372.7" cy="42.5" r="2.9"/><circle cx="1397.6" cy="41.6" r="2.9"/><circle cx="1422.5" cy="40.7" r="2.9"/><circle cx="1447.4" cy="40.0" r="2.9"/><circle cx="1472.3" cy="39.3" r="2.9"/><circle cx="1497.2" cy="38.7" r="2.9"/><circle cx="1522.1" cy="38.1" r="2.9"/><circle cx="1547.0" cy="37.6" r="2.9"/><circle cx="1571.9" cy="37.2" r="2.9"/><circle cx="1596.8" cy="36.7" r="2.9"/><circle cx="1621.8" cy="36.3" r="2.9"/><circle cx="1646.7" cy="36.0" r="2.9"/><circle cx="1671.6" cy="35.6" r="2.9"/><circle cx="1696.5" cy="35.3" r="2.9"/></g><g fill="#ff7f0e"><circle cx="1023.9" cy="257.3" r="2.9"/><circle cx="1048.8" cy="176.7" r="2.9"/><circle cx="1073.7" cy="136.0" r="2.9"/><circle cx="1098.7" cy="111.9" r="2.9"/><circle cx="1123.6" cy="96.0" r="2.9"/><circle cx="1148.5" cy="84.8" r="2.9"/><circle cx="1173.4" cy="76.6" r="2.9"/><circle cx="1198.3" cy="70.2" r="2.9"/><circle cx="1223.2" cy="65.2" r="2.9"/><circle cx="1248.1" cy="61.2" r="2.9"/><circle cx="1273.0" cy="57.9" r="2.9"/><circle cx="1297.9" cy="55.1" r="2.9"/><circle cx="1322.8" cy="52.8" r="2.9"/><circle cx="1347.8" cy="50.8" r="2.9"/><circle cx="1372.7" cy="49.0" r="2.9"/><circle cx="1397.6" cy="47.5" r="2.9"/><circle cx="1422.5" cy="46.1" r="2.9"/><circle cx="1447.4" cy="45.0" r="2.9"/><circle cx="1472.3" cy="43.9" r="2.9"/><circle cx="1497.2" cy="42.9" r="2.9"/><circle cx="1522.1" cy="42.1" r="2.9"/><circle cx="1547.0" cy="41.3" r="2.9"/><circle cx="1571.9" cy="40.6" r="2.9"/><circle cx="1596.8" cy="40.0" r="2.9"/><circle cx="1621.8" cy="39.4" r="2.9"/><circle cx="1646.7" cy="38.8" r="2.9"/><circle cx="1671.6" cy="38.3" r="2.9"/><circle cx="1696.5" cy="37.8" r="2.9"/></g><g fill="#9467bd"><circle cx="1023.9" cy="350.9" r="2.9"/><circle cx="1048.8" cy="238.8" r="2.9"/><circle cx="1073.7" cy="181.2" r="2.9"/><circle cx="1098.7" cy="146.7" r="2.9"/><circle cx="1123.6" cy="124.0" r="2.9"/><circle cx="1148.5" cy="108.1" r="2.9"/><circle cx="1173.4" cy="96.4" r="2.9"/><circle cx="1198.3" cy="87.4" r="2.9"/><circle cx="1223.2" cy="80.4" r="2.9"/><circle cx="1248.1" cy="74.7" r="2.9"/><circle cx="1273.0" cy="70.1" r="2.9"/><circle cx="1297.9" cy="66.2" r="2.9"/><circle cx="1322.8" cy="62.9" r="2.9"/><circle cx="1347.8" cy="60.1" r="2.9"/><circle cx="1372.7" cy="57.7" r="2.9"/><circle cx="1397.6" cy="55.6" r="2.9"/><circle cx="1422.5" cy="53.8" r="2.9"/><circle cx="1447.4" cy="52.2" r="2.9"/><circle cx="1472.3" cy="50.7" r="2.9"/><circle cx="1497.2" cy="49.4" r="2.9"/><circle cx="1522.1" cy="48.3" r="2.9"/><circle cx="1547.0" cy="47.2" r="2.9"/><circle cx="1571.9" cy="46.3" r="2.9"/><circle cx="1596.8" cy="45.4" r="2.9"/><circle cx="1621.8" cy="44.6" r="2.9"/><circle cx="1646.7" cy="43.9" r="2.9"/><circle cx="1671.6" cy="43.2" r="2.9"/><circle cx="1696.5" cy="42.6" r="2.9"/></g><g fill="#bcbd22"><circle cx="1023.9" cy="348.7" r="2.9"/><circle cx="1048.8" cy="238.8" r="2.9"/><circle cx="1073.7" cy="182.6" r="2.9"/><circle cx="1098.7" cy="148.8" r="2.9"/><circle cx="1123.6" cy="126.5" r="2.9"/><circle cx="1148.5" cy="110.7" r="2.9"/><circle cx="1173.4" cy="98.9" r="2.9"/><circle cx="1198.3" cy="89.9" r="2.9"/><circle cx="1223.2" cy="82.8" r="2.9"/><circle cx="1248.1" cy="77.0" r="2.9"/><circle cx="1273.0" cy="72.2" r="2.9"/><circle cx="1297.9" cy="68.3" r="2.9"/><circle cx="1322.8" cy="64.9" r="2.9"/><circle cx="1347.8" cy="62.0" r="2.9"/><circle cx="1372.7" cy="59.5" r="2.9"/><circle cx="1397.6" cy="57.3" r="2.9"/><circle cx="1422.5" cy="55.3" r="2.9"/><circle cx="1447.4" cy="53.6" r="2.9"/><circle cx="1472.3" cy="52.1" r="2.9"/><circle cx="1497.2" cy="50.7" r="2.9"/><circle cx="1522.1" cy="49.4" r="2.9"/><circle cx="1547.0" cy="48.3" r="2.9"/><circle cx="1571.9" cy="47.3" r="2.9"/><circle cx="1596.8" cy="46.3" r="2.9"/><circle cx="1621.8" cy="45.5" r="2.9"/><circle cx="1646.7" cy="44.7" r="2.9"/><circle cx="1671.6" cy="43.9" r="2.9"/><circle cx="1696.5" cy="43.3" r="2.9"/><circle cx="1721.4" cy="42.6" r="2.9"/></g><g fill="#2ca02c"><circle cx="1023.9" cy="548.3" r="2.9"/><circle cx="1048.8" cy="360.6" r="2.9"/><circle cx="1073.7" cy="267.0" r="2.9"/><circle cx="1098.7" cy="211.8" r="2.9"/><circle cx="1123.6" cy="175.8" r="2.9"/><circle cx="1148.5" cy="150.6" r="2.9"/><circle cx="1173.4" cy="132.1" r="2.9"/><circle cx="1198.3" cy="118.0" r="2.9"/><circle cx="1223.2" cy="106.9" r="2.9"/><circle cx="1248.1" cy="98.0" r="2.9"/><circle cx="1273.0" cy="90.7" r="2.9"/><circle cx="1297.9" cy="84.6" r="2.9"/><circle cx="1322.8" cy="79.5" r="2.9"/><circle cx="1347.8" cy="75.1" r="2.9"/><circle cx="1372.7" cy="71.3" r="2.9"/><circle cx="1397.6" cy="68.0" r="2.9"/><circle cx="1422.5" cy="65.1" r="2.9"/><circle cx="1447.4" cy="62.6" r="2.9"/><circle cx="1472.3" cy="60.3" r="2.9"/><circle cx="1497.2" cy="58.2" r="2.9"/><circle cx="1522.1" cy="56.4" r="2.9"/><circle cx="1547.0" cy="54.8" r="2.9"/><circle cx="1571.9" cy="53.2" r="2.9"/><circle cx="1596.8" cy="51.9" r="2.9"/><circle cx="1621.8" cy="50.6" r="2.9"/><circle cx="1646.7" cy="49.5" r="2.9"/><circle cx="1671.6" cy="48.4" r="2.9"/><circle cx="1696.5" cy="47.4" r="2.9"/></g><g fill="#d62728"><circle cx="1023.9" cy="573.9" r="2.9"/><circle cx="1048.8" cy="378.2" r="2.9"/><circle cx="1073.7" cy="279.9" r="2.9"/><circle cx="1098.7" cy="221.8" r="2.9"/><circle cx="1123.6" cy="183.9" r="2.9"/><circle cx="1148.5" cy="157.4" r="2.9"/><circle cx="1173.4" cy="138.0" r="2.9"/><circle cx="1198.3" cy="123.2" r="2.9"/><circle cx="1223.2" cy="111.6" r="2.9"/><circle cx="1248.1" cy="102.3" r="2.9"/><circle cx="1273.0" cy="94.6" r="2.9"/><circle cx="1297.9" cy="88.3" r="2.9"/><circle cx="1322.8" cy="83.0" r="2.9"/><circle cx="1347.8" cy="78.4" r="2.9"/><circle cx="1372.7" cy="74.5" r="2.9"/><circle cx="1397.6" cy="71.1" r="2.9"/><circle cx="1422.5" cy="68.1" r="2.9"/><circle cx="1447.4" cy="65.4" r="2.9"/><circle cx="1472.3" cy="63.1" r="2.9"/><circle cx="1497.2" cy="61.0" r="2.9"/><circle cx="1522.1" cy="59.1" r="2.9"/><circle cx="1547.0" cy="57.4" r="2.9"/><circle cx="1571.9" cy="55.8" r="2.9"/><circle cx="1596.8" cy="54.4" r="2.9"/><circle cx="1621.8" cy="53.1" r="2.9"/><circle cx="1646.7" cy="52.0" r="2.9"/><circle cx="1671.6" cy="50.9" r="2.9"/><circle cx="1696.5" cy="49.9" r="2.9"/><circle cx="1721.4" cy="48.9" r="2.9"/></g><line x1="963.5" x2="963.5" y1="0" y2="601.8" stroke="#333" stroke-width="1.1"/><line x1="963.0" x2="1757" y1="601.3" y2="601.3" stroke="#333" stroke-width="1.1"/><line x1="963.0" x2="1757" y1="0.5" y2="0.5" stroke="#222" stroke-width="1.2"/><line x1="974.10" x2="974.10" y1="601.3" y2="604.9" stroke="#333" stroke-width="1.1"/><text x="974.10" y="619" text-anchor="middle" class="g" style="font-family:'Liberation Sans',Arial,sans-serif;font-size:17px;fill:#4d4d4d">0</text><line x1="1223.20" x2="1223.20" y1="601.3" y2="604.9" stroke="#333" stroke-width="1.1"/><text x="1223.20" y="619" text-anchor="middle" class="g" style="font-family:'Liberation Sans',Arial,sans-serif;font-size:17px;fill:#4d4d4d">10</text><line x1="1472.30" x2="1472.30" y1="601.3" y2="604.9" stroke="#333" stroke-width="1.1"/><text x="1472.30" y="619" text-anchor="middle" class="g" style="font-family:'Liberation Sans',Arial,sans-serif;font-size:17px;fill:#4d4d4d">20</text><line x1="1721.40" x2="1721.40" y1="601.3" y2="604.9" stroke="#333" stroke-width="1.1"/><text x="1721.40" y="619" text-anchor="middle" class="g" style="font-family:'Liberation Sans',Arial,sans-serif;font-size:17px;fill:#4d4d4d">30</text><line x1="959.8" x2="963.5" y1="27.80" y2="27.80" stroke="#333" stroke-width="1.1"/><text x="957.5" y="33.80" text-anchor="end" class="g" style="font-family:'Liberation Sans',Arial,sans-serif;font-size:17px;fill:#4d4d4d">0.000</text><line x1="959.8" x2="963.5" y1="172.90" y2="172.90" stroke="#333" stroke-width="1.1"/><text x="957.5" y="178.90" text-anchor="end" class="g" style="font-family:'Liberation Sans',Arial,sans-serif;font-size:17px;fill:#4d4d4d">−0.025</text><line x1="959.8" x2="963.5" y1="318.00" y2="318.00" stroke="#333" stroke-width="1.1"/><text x="957.5" y="324.00" text-anchor="end" class="g" style="font-family:'Liberation Sans',Arial,sans-serif;font-size:17px;fill:#4d4d4d">−0.050</text><line x1="959.8" x2="963.5" y1="463.10" y2="463.10" stroke="#333" stroke-width="1.1"/><text x="957.5" y="469.10" text-anchor="end" class="g" style="font-family:'Liberation Sans',Arial,sans-serif;font-size:17px;fill:#4d4d4d">−0.075</text><text x="1360" y="638.4" text-anchor="middle" style="font-family:'Liberation Sans',Arial,sans-serif;font-size:17.2px">Basepair Separation</text><text transform="translate(897.6 297.6) rotate(-90)" text-anchor="middle" style="font-family:'Liberation Sans',Arial,sans-serif;font-size:17.2px">Rate of decay of LD−Weaver fit</text><line x1="1495.6" x2="1511.4" y1="424.0" y2="424.0" stroke="#1f77b4" stroke-width="3"/><text x="1516" y="428.7" style="font-family:'Liberation Sans',Arial,sans-serif;font-size:13.6px"><tspan style="font-style:italic">E. coli</tspan></text><line x1="1495.6" x2="1511.4" y1="443.6" y2="443.6" stroke="#ff7f0e" stroke-width="3"/><text x="1516" y="448.3" style="font-family:'Liberation Sans',Arial,sans-serif;font-size:13.6px"><tspan style="font-style:italic">E. faecalis</tspan></text><line x1="1495.6" x2="1511.4" y1="463.2" y2="463.2" stroke="#9467bd" stroke-width="3"/><text x="1516" y="467.9" style="font-family:'Liberation Sans',Arial,sans-serif;font-size:13.6px"><tspan style="font-style:italic">C. jejuni</tspan></text><line x1="1495.6" x2="1511.4" y1="482.8" y2="482.8" stroke="#bcbd22" stroke-width="3"/><text x="1516" y="487.5" style="font-family:'Liberation Sans',Arial,sans-serif;font-size:13.6px"><tspan style="font-style:italic">S. pneumoniae</tspan> (Massachusetts)</text><line x1="1495.6" x2="1511.4" y1="502.4" y2="502.4" stroke="#2ca02c" stroke-width="3"/><text x="1516" y="507.1" style="font-family:'Liberation Sans',Arial,sans-serif;font-size:13.6px"><tspan style="font-style:italic">S. pneumoniae</tspan> (Maela)</text><line x1="1495.6" x2="1511.4" y1="522.0" y2="522.0" stroke="#d62728" stroke-width="3"/><text x="1516" y="526.7" style="font-family:'Liberation Sans',Arial,sans-serif;font-size:13.6px"><tspan style="font-style:italic">H. influenzae</tspan></text></svg>
</body></html>
